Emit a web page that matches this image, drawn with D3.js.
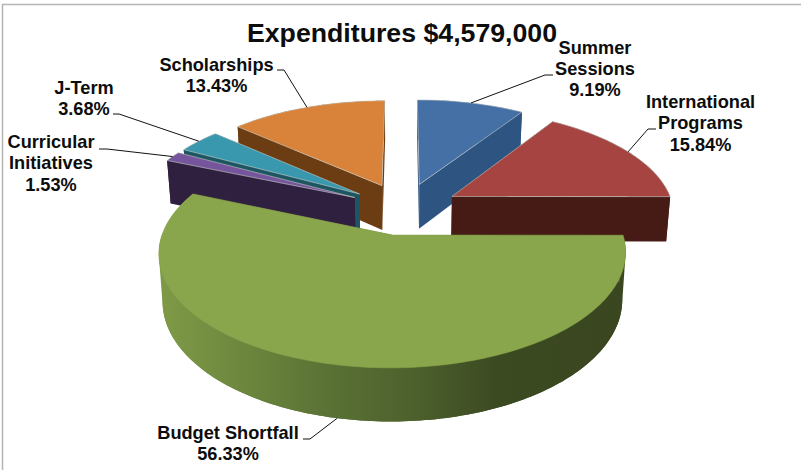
<!DOCTYPE html>
<html>
<head>
<meta charset="utf-8">
<script src="https://cdn.jsdelivr.net/npm/d3@7/dist/d3.min.js"></script>
<style>
html,body{margin:0;padding:0;background:#fff}
svg{display:block}
text{font-family:"Liberation Sans",Arial,sans-serif;font-weight:700;fill:#0d0d0d;text-anchor:middle}
</style>
</head>
<body>
<svg id="chart" width="801" height="470"></svg>
<script>
// Budget breakdown, clockwise from twelve o'clock
const categories = ["Summer Sessions", "International Programs", "Budget Shortfall", "Curricular Initiatives", "J-Term", "Scholarships"];
const shares = [9.19, 15.84, 56.33, 1.53, 3.68, 13.43];
const labelLines = [["Summer", "Sessions", "9.19%"], ["International", "Programs", "15.84%"], ["Budget Shortfall", "56.33%"], ["Curricular", "Initiatives", "1.53%"], ["J-Term", "3.68%"], ["Scholarships", "13.43%"]];
const chartTitle = "Expenditures $4,579,000";

// Face colours per slice
const topColors = ["#4470a6", "#a64441", "#8aa64c", "#75569c", "#3a98ae", "#d9823a"];
const wallColors = ["#2e5482", "#461b16", "#4f6430", "#30203f", "#1d5662", "#6c3d13"];
// Slices are painted back to front
const paintOrder = [5, 0, 4, 3, 1, 2];

// Label placement: centre x, first baseline, leader elbow
const labelLayout = [
  {x: 595, y: 53.5, elbow: [[545, 75], [553, 75]]},
  {x: 700.5, y: 108, elbow: [[648, 129], [656, 129]]},
  {x: 228, y: 439, elbow: [[310, 439], [303, 439]], onSide: true},
  {x: 51, y: 148, elbow: [[107, 149], [99, 149]]},
  {x: 84, y: 94, elbow: [[119, 114], [113, 114]]},
  {x: 216.5, y: 71, elbow: [[284, 70], [277, 70]]}
];

// Camera model for the tilted disc
const view = {cx: 404, cy: 208.6, ax: 222, ay: 104, persp: 0.15, depth: 45.5, explode: 0.25, bottomScale: 0.985};

const pie = d3.pie().sort(null).value(d => d).startAngle(0).endAngle(2 * Math.PI);
const arcs = pie(shares);

// Maps a point on the disc plane to the screen
function toScreen(u, v, lower) {
  const w = 1 - view.persp * v;
  const scale = lower ? view.bottomScale : 1;
  const x = view.cx + scale * view.ax * u / w;
  const y = view.cy + view.ay * v / w + (lower ? view.depth / Math.pow(w, 0.8) : 0);
  return [x, y];
}

function slicePoint(d, angle, radius, lower) {
  const mid = (d.startAngle + d.endAngle) / 2;
  const u = view.explode * Math.sin(mid) + radius * Math.sin(angle);
  const v = -view.explode * Math.cos(mid) - radius * Math.cos(angle);
  return toScreen(u, v, lower);
}

function rimAngles(d) {
  const n = Math.max(4, Math.ceil((d.endAngle - d.startAngle) / 0.02));
  return d3.range(n + 1).map(i => d.startAngle + (d.endAngle - d.startAngle) * i / n);
}

function rim(d, lower) {
  return rimAngles(d).map(a => slicePoint(d, a, 1, lower));
}

const line = d3.line().curve(d3.curveLinear);
const svg = d3.select("#chart");

// Frame along the top and left edges
svg.append("path").attr("d", "M2.5,470V4.5H801").attr("fill", "none").attr("stroke", "#b5b5b5").attr("stroke-width", 1.5);

// Horizontal shading on the large slice's outer band
const shade = svg.append("defs").append("linearGradient").attr("id", "bandShade")
  .attr("gradientUnits", "userSpaceOnUse").attr("x1", 157).attr("x2", 627).attr("y1", 0).attr("y2", 0);
[[0, "#7f9b47"], [0.16, "#6f8a3f"], [0.35, "#5b7335"], [0.55, "#4c602d"], [0.72, "#3c4a22"], [1, "#39461f"]]
  .forEach(s => shade.append("stop").attr("offset", s[0]).attr("stop-color", s[1]));

const slices = svg.append("g").selectAll("g").data(paintOrder).join("g");
slices.each(function(i) {
  const d = arcs[i], g = d3.select(this);
  const topRim = rim(d, false), lowRim = rim(d, true);
  const apexT = slicePoint(d, 0, 0, false), apexB = slicePoint(d, 0, 0, true);
  const band = i === 2 ? "url(#bandShade)" : wallColors[i];
  g.append("path").attr("d", line(topRim.concat(lowRim.slice().reverse())) + "Z").attr("fill", band);
  // Front-facing part of the rim, hulled so the outline runs straight between top and bottom edges
  const front = rimAngles(d).filter(a => a >= Math.PI / 2 && a <= 3 * Math.PI / 2)
    .flatMap(a => [slicePoint(d, a, 1, false), slicePoint(d, a, 1, true)]);
  if (front.length > 4) {
    g.append("path").attr("d", line(d3.polygonHull(front)) + "Z").attr("fill", band);
  }
  [[topRim[0], lowRim[0]], [topRim[topRim.length - 1], lowRim[lowRim.length - 1]]].forEach(e => {
    g.append("path").attr("d", line([apexT, e[0], e[1], apexB]) + "Z").attr("fill", wallColors[i]);
  });
  g.append("path").attr("d", line([apexT].concat(topRim)) + "Z")
    .attr("fill", topColors[i]).attr("stroke", i === 2 ? topColors[i] : "#c9cdc6").attr("stroke-width", 0.6);
});

// Leader lines from each slice's rim midpoint
const leaders = svg.append("g");
arcs.forEach((d, i) => {
  const layout = labelLayout[i];
  const mid = (d.startAngle + d.endAngle) / 2;
  const anchor = slicePoint(d, mid, 1, !!layout.onSide);
  leaders.append("path").attr("d", line([anchor].concat(layout.elbow))).attr("fill", "none").attr("stroke", "#111").attr("stroke-width", 1);
});

// Title and value labels
svg.append("text").attr("x", 402).attr("y", 41.5).attr("font-size", 26.7).text(chartTitle);
const lineStep = 21.3;
labelLines.forEach((lines, i) => {
  const t = svg.append("text").attr("font-size", 18.2);
  lines.forEach((s, k) => t.append("tspan").attr("x", labelLayout[i].x).attr("y", labelLayout[i].y + k * lineStep).text(s));
});
</script>
</body>
</html>
